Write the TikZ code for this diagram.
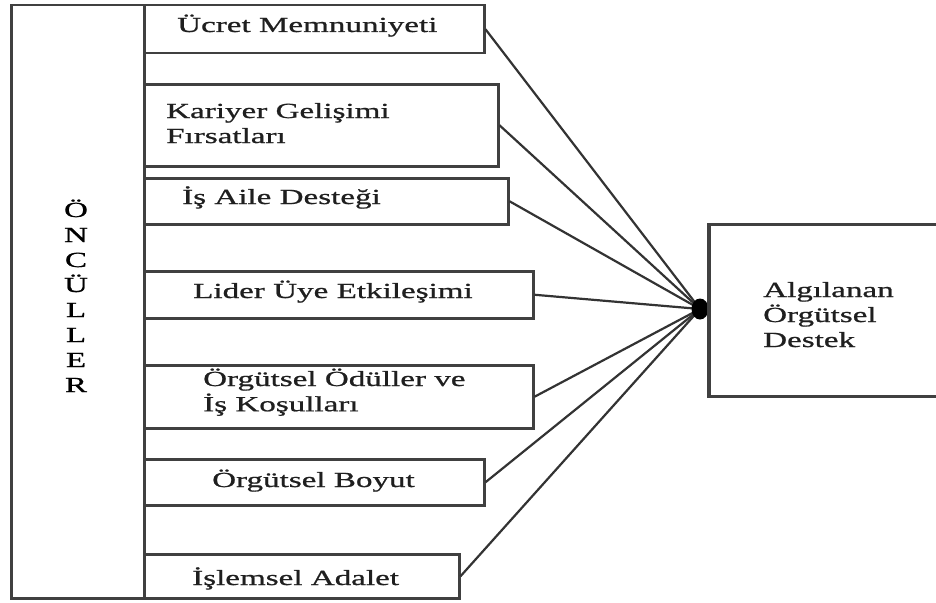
\documentclass[tikz,border=0pt]{standalone}
\usepackage{fontspec}
\setmainfont{Liberation Serif}[FakeStretch=1.54, FakeBold=0.9]
\usetikzlibrary{shapes.geometric}

\tikzset{
  frame/.style={draw=black!75, line width=2.5pt, rectangle, inner sep=0pt, anchor=north west},
  lbl/.style={inner sep=0pt, anchor=base west, text=black!88},
  link/.style={draw=black!80, line width=2.2pt},
  hub/.style={fill=black, ellipse, inner sep=0pt, minimum width=17pt, minimum height=21pt}
}
\newcommand{\twolines}[2]{\begin{tabular}[t]{@{}l@{}}#1\\#2\end{tabular}}

\begin{document}
\begin{tikzpicture}[x=1pt, y=-1pt, font=\fontsize{21.5pt}{25pt}\selectfont]
  \useasboundingbox (0,0) rectangle (936,602);

  % left column holding the antecedents
  \node[frame, minimum width=133pt, minimum height=593pt] (col) at (10,4) {};
  \node[inner sep=0pt, anchor=base] (colname) at (76,217)
    {\begin{tabular}[t]{@{}c@{}}Ö\\N\\C\\Ü\\L\\L\\E\\R\end{tabular}};

  % antecedent boxes
  \node[frame, minimum width=340pt, minimum height=48pt] (b1) at (143,4) {};
  \node[frame, minimum width=354pt, minimum height=82pt] (b2) at (143,83) {};
  \node[frame, minimum width=364pt, minimum height=46pt] (b3) at (143,177) {};
  \node[frame, minimum width=389pt, minimum height=47pt] (b4) at (143,270) {};
  \node[frame, minimum width=389pt, minimum height=63pt] (b5) at (143,364) {};
  \node[frame, minimum width=340pt, minimum height=46pt] (b6) at (143,458) {};
  \node[frame, minimum width=315pt, minimum height=44pt] (b7) at (143,553) {};

  \node[lbl] (t1) at (177,32) {Ücret Memnuniyeti};
  \node[lbl] (t2) at (166,118) {\twolines{Kariyer Gelişimi}{Fırsatları}};
  \node[lbl] (t3) at (182,204) {İş Aile Desteği};
  \node[lbl] (t4) at (193,298) {Lider Üye Etkileşimi};
  \node[lbl] (t5) at (203,386) {\twolines{Örgütsel Ödüller ve}{İş Koşulları}};
  \node[lbl] (t6) at (212,487) {Örgütsel Boyut};
  \node[lbl] (t7) at (192,585) {İşlemsel Adalet};

  % outcome box
  \node[frame, minimum width=232pt, minimum height=172pt] (out) at (708,223) {};
  \node[lbl] (tout) at (763,297)
    {\begin{tabular}[t]{@{}l@{}}Algılanan\\Örgütsel\\Destek\end{tabular}};

  % converging links
  \coordinate (joint) at (700,309);
  \foreach \b in {b1,b2,b3,b4,b5,b6,b7}
    \draw[link] (\b.east) -- (joint);
  \node[hub] (dot) at (joint) {};
  \draw[draw=black!75, line width=2.5pt] (out.north west) -- (out.south west);
\end{tikzpicture}
\end{document}
